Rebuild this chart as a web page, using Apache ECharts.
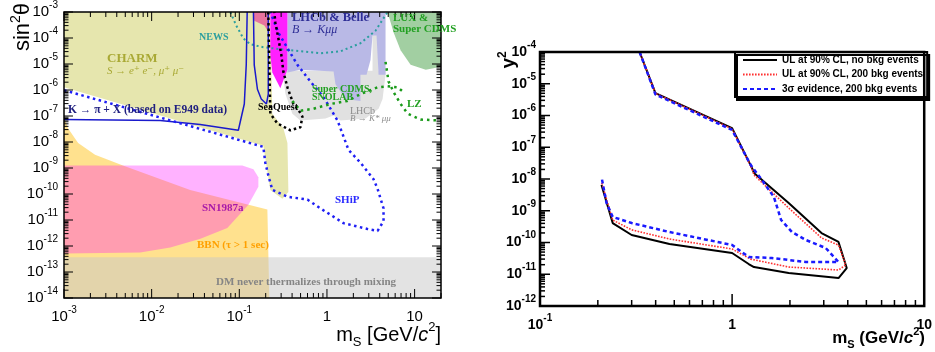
<!DOCTYPE html>
<html>
<head>
<meta charset="utf-8">
<script src="https://cdn.jsdelivr.net/npm/echarts@6/dist/echarts.min.js"></script>
<style>
  html, body { margin: 0; padding: 0; background: #fff; }
  #chart { width: 935px; height: 352px; }
</style>
</head>
<body>
<div id="chart"></div>
<script>
// ---- left panel: excluded regions, [m_S (GeV), sin^2 theta] ----
const charmRegion = [[1e-3,1e-3],[0.226,1e-3],[0.238,1.23e-7],[0.318,3.4e-8],[0.354,9.2e-9],[0.363,1.2e-10],[0.31,6.6e-11],[0.226,1.44e-10],[0.188,7.1e-9],[1e-3,1.27e-6]];
const bbnRegion = [[1e-3,9.5e-8],[1.11e-3,3.4e-8],[1.45e-3,9.2e-9],[2.26e-3,3.2e-9],[4.7e-3,1.25e-9],[0.0275,1.44e-10],[0.209,2.55e-11],[0.22,1e-14],[1e-3,1e-14]];
const sn1987aRegion = [[1e-3,1.25e-9],[0.108,1.25e-9],[0.145,8.9e-10],[0.165,4.4e-10],[0.165,1.9e-10],[0.127,3.9e-11],[0.073,4.9e-12],[0.036,1.9e-12],[0.0163,8.7e-13],[7.4e-3,5.65e-13],[1e-3,5.2e-13]];
const dmBand = [[1e-3,1e-14],[20,1e-14],[20,3.66e-13],[1e-3,3.66e-13]];
const lhcbKstarRegion = [[0.31,5.55e-6],[3.31,5.55e-6],[3.31,1.93e-4],[3.88,1.93e-4],[3.88,5.55e-6],[4.66,5.55e-6],[4.66,3.9e-6],[4.31,4.5e-7],[3.88,1.9e-7],[2.75,8e-8],[1.43,6.7e-8],[1.19,1.04e-7],[0.962,8e-8],[0.498,6.7e-8],[0.403,1.23e-7],[0.336,6.95e-7]];
const lhcbBelleRegion = [[0.354,1e-3],[4.66,1e-3],[4.66,3.9e-6],[3.88,3.9e-6],[3.68,1.25e-4],[3.31,1.25e-4],[3.14,1.44e-5],[2.83,3.9e-6],[2.41,3.9e-6],[2.41,3.8e-7],[1.63,4.5e-7],[1.25,1.65e-6],[1.19,5.1e-6],[0.498,6.05e-6],[0.354,4.7e-6]];
const luxRegion = [[4.91,1e-3],[20,1e-3],[20,7.85e-6],[13.4,6.05e-6],[9.0,9.3e-6],[6.92,3.4e-5],[5.76,1.63e-4]];
const magentaRegion = [[0.226,1e-3],[0.354,1e-3],[0.354,6.05e-6],[0.294,1.17e-6],[0.238,4.7e-6],[0.226,2.2e-5]];
const roseRegion = [[0.145,1e-3],[0.22,1e-3],[0.22,1.5e-4],[0.193,3.0e-4],[0.148,4.6e-4]];

// ---- left panel: curves ----
const newsLine = [[0.0789,1e-3],[0.0924,3.0e-4],[0.111,9.7e-5],[0.134,5.75e-5],[0.188,4.4e-5],[0.383,3.4e-5],[0.843,2.6e-5],[1.43,3.1e-5],[2.41,6.3e-5],[3.58,1.9e-4],[4.91,1e-3]];
const kpiLineA = [[1e-3,7.3e-8],[0.0125,6.7e-8],[0.0358,4.75e-8],[0.0975,2.83e-8],[0.114,2.9e-7],[0.12,9.3e-6],[0.123,1e-3]];
const kpiLineB = [[0.145,1e-3],[0.148,9.3e-6],[0.161,1.07e-6],[0.178,4.5e-7],[0.204,2.9e-7],[0.214,7e-7],[0.214,1e-3]];
const shipLine = [[1e-3,9.8e-7],[0.188,6.5e-9],[0.198,1.6e-9],[0.214,5.3e-10],[0.238,1.44e-10],[0.354,7.85e-11],[0.598,6.1e-11],[0.843,2.8e-11],[1.54,7.6e-12],[2.9,4.5e-12],[3.78,3.8e-12],[4.42,9.0e-12],[4.42,2.8e-11],[3.78,1.57e-10],[3.4,3.7e-10],[2.41,1.6e-9],[1.76,5.0e-9],[1.32,6.7e-8],[0.912,5.4e-7],[0.648,2.1e-6],[0.46,9.3e-6],[0.354,4.1e-5],[0.279,1.6e-4],[0.226,1e-3]];
const seaquestLine = [[0.214,1e-3],[0.22,9.3e-6],[0.226,1.23e-7],[0.272,5.2e-8],[0.383,2.8e-8],[0.498,3.7e-8],[0.525,9.5e-8],[0.472,1.74e-7],[0.414,2.9e-7],[0.354,1.27e-6],[0.318,5.1e-6],[0.302,2.2e-5],[0.279,9.7e-5],[0.258,3.9e-4],[0.251,1e-3]];
const snolabLine = [[0.403,3.8e-7],[0.498,1.6e-7],[0.701,1.9e-7],[1.10,2.9e-7],[1.71,3.8e-7],[2.41,6.95e-7],[3.78,1.27e-6],[4.91,1.39e-6],[6.39,1.27e-6],[7.49,8.3e-7]];
const lzLine = [[4.66,1.21e-5],[5.04,2.14e-6],[5.76,8.3e-7],[6.92,2.9e-7],[8.32,1.23e-7],[11.7,7.3e-8],[20,6.7e-8]];

// ---- right panel: sensitivity contours, [m_S (GeV), y^2] ----
const ulNoBkg = [[0.330,1e-4],[0.399,5.1e-6],[1.0,4.0e-7],[1.27,2.2e-8],[1.30,1.55e-8],[1.97,1.75e-9],[2.92,1.99e-10],[3.58,1.04e-10],[3.95,1.57e-11],[3.58,7.6e-12],[1.97,1.09e-11],[1.30,1.69e-11],[1.22,2.1e-11],[1.0,4.67e-11],[0.472,8.97e-11],[0.300,1.72e-10],[0.239,4.1e-10],[0.209,6.5e-9]];
const ul200Bkg = [[0.330,1e-4],[0.399,5.0e-6],[1.0,3.8e-7],[1.27,2.1e-8],[1.30,1.34e-8],[1.97,1.22e-9],[2.92,1.39e-10],[3.58,8.3e-11],[3.90,1.96e-11],[3.58,1.36e-11],[1.97,1.69e-11],[1.25,3.0e-11],[1.0,6.24e-11],[0.472,1.29e-10],[0.300,2.5e-10],[0.239,5.1e-10],[0.209,8.0e-9]];
const evid3s200Bkg = [[0.330,1e-4],[0.399,4.6e-6],[1.0,3.5e-7],[1.25,2.76e-8],[1.43,9.3e-9],[1.65,2.71e-9],[1.80,5.1e-10],[2.05,2.14e-10],[2.42,1.20e-10],[3.07,6.71e-11],[3.58,2.43e-11],[2.42,2.43e-11],[1.61,3.25e-11],[1.22,3.49e-11],[1.0,8.34e-11],[0.472,2.14e-10],[0.300,4.1e-10],[0.239,6.4e-10],[0.222,1.75e-9],[0.209,1.16e-8]];

const legendNames = ['UL at 90% CL, no bkg events', 'UL at 90% CL, 200 bkg events', '3\u03c3 evidence, 200 bkg events'];

// 对数轴刻度 (1..9 x 10^k)
function logTicks(lo, hi, min, max) {
  const out = [];
  for (let e = lo; e <= hi; e++) {
    for (let m = 1; m < 10; m++) {
      const v = m * Math.pow(10, e);
      if (v >= min * 0.999 && v <= max * 1.001) out.push(v);
    }
  }
  return out;
}
function isDecade(v) {
  const l = Math.log10(v);
  return Math.abs(l - Math.round(l)) < 1e-6;
}
function powLabel(v) {
  const l = Math.log10(v), e = Math.round(l);
  if (Math.abs(l - e) > 1e-6) return '';
  if (e === 0) return '{b|1}';
  if (e === 1) return '{b|10}';
  return '{b|10}{s|' + e + '}';
}

// 填充区域
function area(pts, color, z) {
  return {
    type: 'custom', xAxisIndex: 0, yAxisIndex: 0, z: z, silent: true, clip: true,
    data: [pts[0]],
    renderItem: (params, api) => ({
      type: 'polygon',
      shape: { points: pts.map(p => api.coord(p)) },
      style: { fill: color }
    })
  };
}
// 曲线
function curve(gi, pts, color, width, dash, z, name) {
  return {
    type: 'line', name: name, xAxisIndex: gi, yAxisIndex: gi, z: z, silent: true,
    data: pts, symbol: 'none', showSymbol: false, clip: true,
    lineStyle: { color: color, width: width, type: dash || 'solid' },
    itemStyle: { color: color }
  };
}
// 边框和刻度
function frame(gi, xTicks, yTicks, len, allSides) {
  return {
    type: 'custom', xAxisIndex: gi, yAxisIndex: gi, z: 30, silent: true, clip: false,
    data: [[xTicks[0], yTicks[0]]],
    renderItem: (params, api) => {
      const cs = params.coordSys;
      const kids = [];
      const st = { stroke: '#000', lineWidth: len.w };
      const bottom = cs.y + cs.height, right = cs.x + cs.width;
      xTicks.forEach(v => {
        const px = api.coord([v, yTicks[0]])[0];
        const L = isDecade(v) ? len.xMaj : len.xMin;
        kids.push({ type: 'line', shape: { x1: px, y1: bottom, x2: px, y2: bottom - L }, style: st });
        if (allSides) kids.push({ type: 'line', shape: { x1: px, y1: cs.y, x2: px, y2: cs.y + L }, style: st });
      });
      yTicks.forEach(v => {
        const py = api.coord([xTicks[0], v])[1];
        const L = isDecade(v) ? len.yMaj : len.yMin;
        kids.push({ type: 'line', shape: { x1: cs.x, y1: py, x2: cs.x + L, y2: py }, style: st });
        if (allSides) kids.push({ type: 'line', shape: { x1: right, y1: py, x2: right - L, y2: py }, style: st });
      });
      kids.push({ type: 'rect', shape: { x: cs.x, y: cs.y, width: cs.width, height: cs.height },
        style: { fill: 'none', stroke: '#000', lineWidth: len.frame } });
      return { type: 'group', children: kids };
    }
  };
}

function txt(x, y, text, color, font, extra) {
  return Object.assign({
    type: 'text', x: x, y: y, z: 40, silent: true,
    style: { text: text, fill: color, font: font, align: 'left', verticalAlign: 'middle' }
  }, extra || {});
}

const SERIF = '"Liberation Serif", "DejaVu Serif", serif';
const SANS = '"Liberation Sans", Arial, sans-serif';

const chart = echarts.init(document.getElementById('chart'));

const leftRich = {
  b: { fontSize: 15, lineHeight: 24, verticalAlign: 'middle', fontFamily: SANS, color: '#000' },
  s: { fontSize: 10, lineHeight: 10, verticalAlign: 'top', fontFamily: SANS, color: '#000' }
};
const rightRich = {
  b: { fontSize: 14, fontWeight: 'bold', lineHeight: 24, verticalAlign: 'middle', fontFamily: SANS, color: '#000' },
  s: { fontSize: 10, fontWeight: 'bold', lineHeight: 10, verticalAlign: 'top', fontFamily: SANS, color: '#000' }
};
function logAxis(gi, min, max, rich, margin) {
  return {
    type: 'log', logBase: 10, gridIndex: gi, min: min, max: max, interval: 1,
    axisLine: { show: false }, axisTick: { show: false }, splitLine: { show: false }, minorTick: { show: false },
    axisLabel: { formatter: powLabel, rich: rich, margin: margin, showMinLabel: true, showMaxLabel: true, hideOverlap: false }
  };
}

const option = {
  animation: false,
  backgroundColor: '#fff',
  grid: [
    { left: 64, top: 6, width: 377, height: 292 },
    { left: 540, top: 52, width: 386, height: 254 }
  ],
  xAxis: [logAxis(0, 1e-3, 20, leftRich, 7), logAxis(1, 0.1, 10, rightRich, 7)],
  yAxis: [logAxis(0, 1e-14, 1e-3, leftRich, 6), logAxis(1, 1e-12, 1e-4, rightRich, 4)],
  legend: {
    data: legendNames, orient: 'vertical', left: 735, top: 52,
    itemWidth: 34, itemHeight: 12, itemGap: 4.5,
    padding: [3, 4, 3, 7],
    itemStyle: { opacity: 0 },
    backgroundColor: '#fff', borderColor: '#000', borderWidth: 2,
    shadowColor: '#000', shadowBlur: 0, shadowOffsetX: 2, shadowOffsetY: 3,
    textStyle: { fontFamily: SANS, fontWeight: 'bold', fontSize: 10, color: '#000' },
    selectedMode: false
  },
  series: [
    area(charmRegion, '#e6e6ae', 1),
    area(bbnRegion, 'rgba(255,200,50,0.55)', 2),
    area(sn1987aRegion, 'rgba(255,0,255,0.30)', 3),
    area(dmBand, 'rgba(200,200,200,0.5)', 4),
    area(lhcbKstarRegion, '#e1e1e1', 5),
    area(lhcbBelleRegion, '#b9b9e6', 6),
    area(luxRegion, '#a2cfa2', 6),
    area(roseRegion, '#e8739e', 7),
    area(magentaRegion, '#ff20ff', 7),
    curve(0, newsLine, '#2b9e9e', 2, [2, 3], 10),
    curve(0, kpiLineA, '#1a1acc', 1.5, 'solid', 10),
    curve(0, kpiLineB, '#1a1acc', 1.5, 'solid', 10),
    curve(0, shipLine, '#1f1ff5', 2.5, [2.5, 3.5], 11),
    curve(0, seaquestLine, '#000', 2.5, [2.5, 3], 11),
    curve(0, snolabLine, '#1a9a1a', 2.5, [2.5, 4], 11),
    curve(0, lzLine, '#1a9a1a', 2.5, [2.5, 4], 11),
    curve(1, ulNoBkg, '#000', 2, 'solid', 10, legendNames[0]),
    curve(1, ul200Bkg, '#ff3030', 1.6, [1.6, 1.4], 11, legendNames[1]),
    curve(1, evid3s200Bkg, '#1a1aff', 2.5, [4, 3], 12, legendNames[2]),
    frame(0, logTicks(-3, 1, 1e-3, 20), logTicks(-14, -3, 1e-14, 1e-3),
      { w: 1, xMaj: 9, xMin: 5, yMaj: 9, yMin: 4.5, frame: 1.5 }, true),
    frame(1, logTicks(-1, 1, 0.1, 10), logTicks(-12, -4, 1e-12, 1e-4),
      { w: 1.5, xMaj: 12, xMin: 6, yMaj: 10, yMin: 5, frame: 2.5 }, false)
  ],
  graphic: [
    // axis titles
    txt(23, 27, '', '#000', '', {
      rotation: Math.PI / 2,
      style: { text: '{a|sin}{s|2}{a|\u03b8}', align: 'center', verticalAlign: 'middle',
        rich: { a: { fontSize: 22, fontFamily: SANS, lineHeight: 28, verticalAlign: 'middle' },
                s: { fontSize: 14, fontFamily: SANS, lineHeight: 14, verticalAlign: 'top' } } }
    }),
    txt(441, 335, '', '#000', '', {
      style: { text: '{a|m}{u|S}{a| [GeV/}{i|c}{s|2}{a|]}', align: 'right', verticalAlign: 'middle',
        rich: { a: { fontSize: 20, fontFamily: SANS, lineHeight: 28, verticalAlign: 'middle' },
                i: { fontSize: 20, fontFamily: SANS, fontStyle: 'italic', lineHeight: 28, verticalAlign: 'middle' },
                u: { fontSize: 13, fontFamily: SANS, lineHeight: 13, verticalAlign: 'bottom' },
                s: { fontSize: 13, fontFamily: SANS, lineHeight: 13, verticalAlign: 'top' } } }
    }),
    txt(509, 60, '', '#000', '', {
      rotation: Math.PI / 2,
      style: { text: '{a|y}{s|2}', align: 'center', verticalAlign: 'middle',
        rich: { a: { fontSize: 19, fontFamily: SANS, fontWeight: 'bold', lineHeight: 24, verticalAlign: 'middle' },
                s: { fontSize: 12, fontFamily: SANS, fontWeight: 'bold', lineHeight: 12, verticalAlign: 'top' } } }
    }),
    txt(925, 338, '', '#000', '', {
      style: { text: '{a|m}{u|S}{a| (GeV/}{i|c}{s|2}{a|)}', align: 'right', verticalAlign: 'middle',
        rich: { a: { fontSize: 17, fontFamily: SANS, fontWeight: 'bold', lineHeight: 24, verticalAlign: 'middle' },
                i: { fontSize: 17, fontFamily: SANS, fontWeight: 'bold', fontStyle: 'italic', lineHeight: 24, verticalAlign: 'middle' },
                u: { fontSize: 11, fontFamily: SANS, fontWeight: 'bold', lineHeight: 11, verticalAlign: 'bottom' },
                s: { fontSize: 11, fontFamily: SANS, fontWeight: 'bold', lineHeight: 11, verticalAlign: 'top' } } }
    }),
    // region labels
    txt(199, 37, 'NEWS', '#2b9e9e', 'bold 10px ' + SERIF),
    txt(107, 59, 'CHARM', '#a9a935', 'bold 13px ' + SERIF),
    txt(107, 71, 'S \u2192 e\u207a e\u207b, \u03bc\u207a \u03bc\u207b', '#a9a935', 'italic 11px ' + SERIF),
    txt(292, 18, 'LHCb & Belle', '#2e2e96', 'bold 12.5px ' + SERIF),
    txt(292, 30, 'B \u2192 K\u03bc\u03bc', '#2e2e96', 'italic 12px ' + SERIF),
    txt(393, 18, 'LUX &', '#22a022', 'bold 11px ' + SERIF),
    txt(393, 29, 'Super CDMS', '#22a022', 'bold 11px ' + SERIF),
    txt(68, 110, 'K \u2192 \u03c0 + X (based on E949 data)', '#202080', 'bold 11.5px ' + SERIF),
    txt(258, 107, 'SeaQuest', '#000', 'bold 10px ' + SERIF),
    txt(312, 89, 'Super CDMS,', '#22a022', 'bold 10px ' + SERIF),
    txt(312, 97, 'SNOLAB', '#22a022', 'bold 10px ' + SERIF),
    txt(407, 104, 'LZ', '#22a022', 'bold 11px ' + SERIF),
    txt(350, 111, 'LHCb', '#8c8c8c', '10px ' + SERIF),
    txt(350, 119, 'B \u2192 K* \u03bc\u03bc', '#8c8c8c', 'italic 9px ' + SERIF),
    txt(335, 200, 'SHiP', '#2a2aff', 'bold 11px ' + SERIF),
    txt(202, 208, 'SN1987a', '#a81aa8', 'bold 11px ' + SERIF),
    txt(197, 245, 'BBN (\u03c4 > 1 sec)', '#ffa000', 'bold 11px ' + SERIF),
    txt(216, 282, 'DM never thermalizes through mixing', '#858585', 'bold 11px ' + SERIF)
  ]
};
chart.setOption(option);
</script>
</body>
</html>
